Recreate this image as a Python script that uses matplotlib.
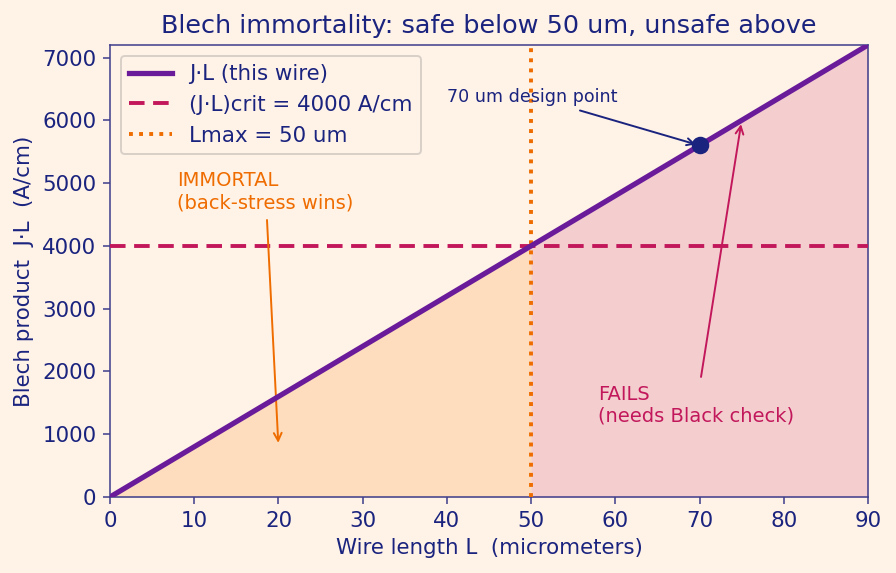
import numpy as np
import matplotlib
matplotlib.use("Agg")
import matplotlib.pyplot as plt

# Data
L = [0, 10, 20, 30, 40, 50, 60, 70, 80, 90]
JL = [0, 800, 1600, 2400, 3200, 4000, 4800, 5600, 6400, 7200]
JL_crit = 4000
L_max = 50
design_L = 70
design_JL = 5600

BG = '#FFF3E7'
NAVY = '#1A237E'
PURPLE = '#6A1B9A'
CRIMSON = '#C2185B'
ORANGE = '#EF6C00'
SPINE = '#3F3F8C'

fig = plt.figure(figsize=(6.4, 573/140), dpi=140, facecolor=BG)
ax = fig.add_axes([110/896, 1-497/573, (868-110)/896, (497-45)/573])
ax.set_facecolor(BG)

Larr = np.array(L, dtype=float)
JLarr = np.array(JL, dtype=float)
safe = Larr <= L_max
unsafe = Larr >= L_max
ax.fill_between(Larr[safe], 0, JLarr[safe], color='#F57C00', alpha=0.18, lw=0)
ax.fill_between(Larr[unsafe], 0, JLarr[unsafe], color=CRIMSON, alpha=0.17, lw=0)

ax.plot(L, JL, color=PURPLE, lw=2.7, label='J·L (this wire)', zorder=4)
ax.axhline(JL_crit, color=CRIMSON, lw=2.0, ls=(0, (4, 2.2)), label='(J·L)crit = 4000 A/cm', zorder=3)
ax.axvline(L_max, color=ORANGE, lw=2.0, ls=(0, (1, 1.6)), label='Lmax = 50 um', zorder=3)
ax.plot([design_L], [design_JL], 'o', color=NAVY, ms=8, zorder=5)

ax.annotate('70 um design point', xy=(design_L, design_JL), xytext=(40, 6300),
            color=NAVY, fontsize=9,
            arrowprops=dict(arrowstyle='->', color=NAVY, lw=1.0))
ax.annotate('IMMORTAL\n(back-stress wins)', xy=(20, 800), xytext=(8, 4600),
            color=ORANGE, fontsize=10,
            arrowprops=dict(arrowstyle='->', color=ORANGE, lw=1.0))
ax.annotate('FAILS\n(needs Black check)', xy=(75, 6000), xytext=(58, 1200),
            color=CRIMSON, fontsize=10,
            arrowprops=dict(arrowstyle='->', color=CRIMSON, lw=1.0))

ax.set_xlim(0, 90)
ax.set_ylim(0, 7200)
ax.set_xticks([0, 10, 20, 30, 40, 50, 60, 70, 80, 90])
ax.set_yticks([0, 1000, 2000, 3000, 4000, 5000, 6000, 7000])
ax.tick_params(colors=NAVY, labelsize=11, color=SPINE)
for s in ax.spines.values():
    s.set_color(SPINE)
ax.set_xlabel('Wire length L  (micrometers)', color=NAVY, fontsize=11)
ax.set_ylabel('Blech product  J·L  (A/cm)', color=NAVY, fontsize=11)
ax.set_title('Blech immortality: safe below 50 um, unsafe above', color=NAVY, fontsize=13.1)

leg = ax.legend(loc='upper left', fontsize=11, facecolor=BG, edgecolor='#D8D0C8', framealpha=1)
for t in leg.get_texts():
    t.set_color(NAVY)

fig.savefig('out.png', dpi=140, facecolor=BG)
